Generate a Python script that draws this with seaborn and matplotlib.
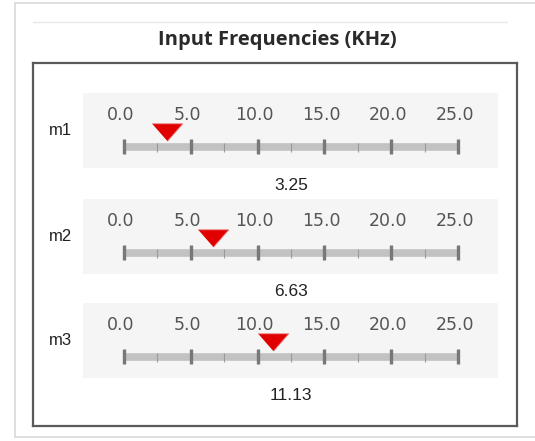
import matplotlib.pyplot as plt
import matplotlib.transforms as mtransforms
import numpy as np
import seaborn as sns

sns.set_theme(style='white')
plt.rcParams['font.family'] = ['DejaVu Sans']

# Data
slider_names = ['m1', 'm2', 'm3']
slider_values = [3.25, 6.63, 11.13]
major_ticks = [0, 5, 10, 15, 20, 25]
minor_ticks = [2.5, 7.5, 12.5, 17.5, 22.5]
tick_labels = ['0.0', '5.0', '10.0', '15.0', '20.0', '25.0']
title = 'Input Frequencies (KHz)'

W, H = 535, 441
fig = plt.figure(figsize=(W / 100, H / 100), dpi=100)
fig.patch.set_facecolor('white')


def px_rect(x0, y0, x1, y1):
    # pixel box (top-left origin) -> figure fraction rect
    return [x0 / W, 1 - y1 / H, (x1 - x0) / W, (y1 - y0) / H]


# outer panel frame and inner box
frame = fig.add_axes(px_rect(15, 3, 535, 437))
frame.set_xticks([])
frame.set_yticks([])
frame.set_facecolor('white')
for s in frame.spines.values():
    s.set_color('#d9d9d9')
    s.set_linewidth(1.2)
frame.spines['right'].set_visible(False)

fig.add_artist(plt.Line2D([33 / W, 507 / W], [1 - 22 / H, 1 - 22 / H],
                          color='#e8e8e8', lw=1.0))
fig.text(277 / W, 1 - 40 / H, title, ha='center', va='center',
         fontsize=14.5, fontweight='bold', color='#2a2a2a',
         family=['Open Sans', 'DejaVu Sans'])

box = fig.add_axes(px_rect(33, 63, 517, 426))
box.set_xticks([])
box.set_yticks([])
box.set_facecolor('white')
for s in box.spines.values():
    s.set_color('#5a5a5a')
    s.set_linewidth(1.6)

# slider rows
track_px = [147, 253, 357]
px_per_unit = (458 - 124) / 25
x_lo = 0 - (124 - 83) / px_per_unit
x_hi = 25 + (498 - 458) / px_per_unit

label_shift = mtransforms.ScaledTranslation(-3 / 100, 0, fig.dpi_scale_trans)

for name, val, ty in zip(slider_names, slider_values, track_px):
    top, bottom = ty - 54, ty + 21
    ax = fig.add_axes(px_rect(83, top, 498, bottom))
    ax.set_facecolor('#f5f5f5')
    for s in ax.spines.values():
        s.set_visible(False)
    ax.set_xlim(x_lo, x_hi)
    ax.set_ylim(75, 0)
    ax.set_yticks([])

    # scale labels on top, drawn inside the band
    ax.xaxis.set_ticks_position('top')
    ax.set_xticks(major_ticks)
    ax.set_xticklabels(tick_labels)
    ax.tick_params(axis='x', length=0, pad=-22.5, labelsize=12.5,
                   labelcolor='#555555')
    for lab in ax.get_xticklabels():
        lab.set_transform(lab.get_transform() + label_shift)

    # track
    sns.lineplot(x=[major_ticks[0], major_ticks[-1]], y=[54, 54], ax=ax,
                 color='#c2c2c2', linewidth=5.5, solid_capstyle='butt')
    ax.vlines(minor_ticks, 50, 59, color='#9a9a9a', linewidth=0.8)
    ax.vlines(major_ticks, 45.5, 61, color='#787878', linewidth=2.4)

    # pointer (tip down)
    sns.scatterplot(x=[val], y=[39], ax=ax,
                    marker=[(-1, 0.57), (1, 0.57), (0, -0.57)],
                    s=22 ** 2, color='#e00000', edgecolor='#f08080',
                    linewidth=0.6, zorder=5)

    # name and value
    ax.text(-0.027, 0.5, name, transform=ax.transAxes, ha='right',
            va='center', fontsize=12, color='#222222',
            family=['Liberation Sans', 'DejaVu Sans'])
    ax.text(12.5, 92.5, f'{val:.2f}', ha='center', va='center',
            fontsize=12.5, color='#222222', clip_on=False,
            family=['Liberation Sans', 'DejaVu Sans'])
    ax.set_xlabel('')
    ax.set_ylabel('')

fig.savefig('out.png', dpi=100, facecolor='white')
plt.close(fig)
